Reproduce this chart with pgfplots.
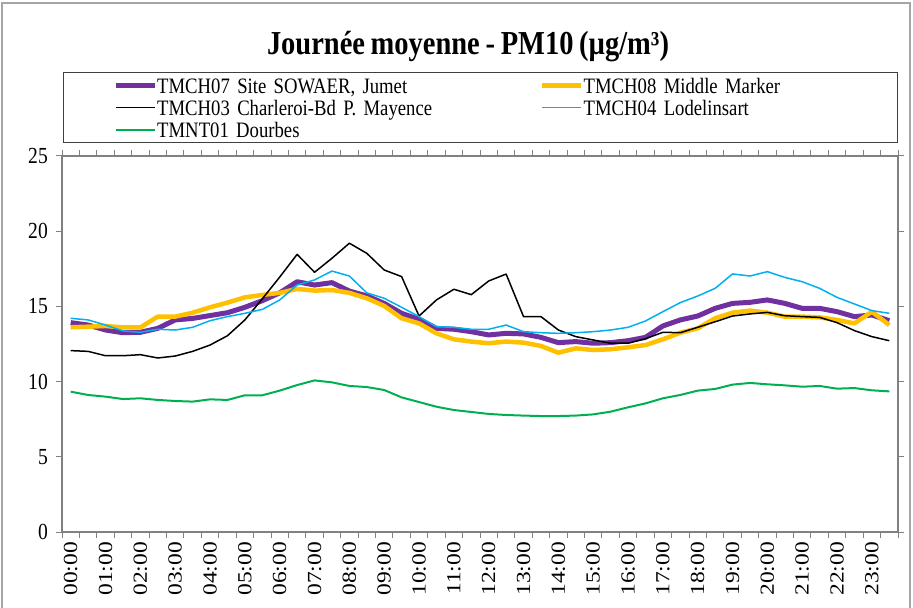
\documentclass[border=0pt]{standalone}
\usepackage{pgfplots}
\usepackage{pgfplotstable}
\pgfplotsset{compat=1.18}
\usepackage{fontspec}
\usepackage{graphicx}
\setmainfont{Liberation Serif}[FakeStretch=0.85, WordSpace=0.8]
\newfontfamily\plainserif{Liberation Serif}
\definecolor{cPurple}{HTML}{7030A0}
\definecolor{cYellow}{HTML}{FFC000}
\definecolor{cCyan}{HTML}{00B0F0}
\definecolor{cGreen}{HTML}{00B050}
\definecolor{cAxis}{HTML}{808080}
\newcommand{\tl}[1]{\scalebox{1}[0.85]{\plainserif\fontsize{23.5bp}{25bp}\selectfont #1}}
\pgfplotstableread{
i a b c d e
0 13.92 13.61 12.06 14.21 9.33
1 13.76 13.65 12.01 14.10 9.11
2 13.43 13.70 11.72 13.76 9.00
3 13.25 13.60 11.72 13.37 8.84
4 13.28 13.60 11.79 13.28 8.89
5 13.54 14.32 11.57 13.48 8.78
6 14.10 14.32 11.70 13.43 8.71
7 14.20 14.58 12.01 13.61 8.67
8 14.39 14.94 12.43 14.05 8.82
9 14.58 15.25 13.05 14.32 8.78
10 14.94 15.60 14.10 14.54 9.09
11 15.38 15.76 15.50 14.80 9.09
12 15.90 15.90 16.95 15.43 9.40
13 16.64 16.16 18.46 16.42 9.77
14 16.42 16.05 17.27 16.76 10.08
15 16.58 16.09 18.20 17.35 9.95
16 16.02 15.90 19.20 17.02 9.71
17 15.70 15.54 18.53 15.90 9.64
18 15.20 15.03 17.42 15.54 9.44
19 14.54 14.21 16.98 14.94 8.95
20 14.14 13.87 14.36 14.32 8.64
21 13.54 13.21 15.43 13.65 8.33
22 13.48 12.81 16.14 13.61 8.11
23 13.32 12.66 15.78 13.48 7.98
24 13.10 12.55 16.69 13.48 7.85
25 13.21 12.66 17.15 13.76 7.78
26 13.17 12.59 14.32 13.32 7.74
27 12.94 12.37 14.32 13.25 7.71
28 12.59 11.92 13.43 13.21 7.71
29 12.66 12.21 12.99 13.25 7.74
30 12.55 12.10 12.77 13.32 7.82
31 12.59 12.15 12.55 13.43 8.00
32 12.72 12.28 12.55 13.61 8.29
33 12.94 12.43 12.85 14.03 8.55
34 13.70 12.81 13.28 14.65 8.89
35 14.10 13.25 13.25 15.25 9.11
36 14.36 13.54 13.61 15.69 9.40
37 14.87 14.21 13.98 16.20 9.51
38 15.20 14.58 14.36 17.16 9.80
39 15.27 14.72 14.50 17.02 9.91
40 15.43 14.58 14.60 17.31 9.82
41 15.20 14.32 14.38 16.93 9.75
42 14.87 14.32 14.32 16.64 9.66
43 14.87 14.27 14.27 16.20 9.71
44 14.65 14.10 13.92 15.60 9.53
45 14.32 13.87 13.39 15.16 9.57
46 14.43 14.65 12.99 14.72 9.42
47 14.05 13.76 12.72 14.54 9.35
}\datatable
\begin{document}
\begin{tikzpicture}
\useasboundingbox (0,0) rectangle (913bp,608bp);
\draw[cAxis!70, line width=1.5bp] (2bp,0bp) -- (2bp,605bp) -- (910bp,605bp) -- (910bp,0bp);
\node[font=\bfseries\fontsize{33.5bp}{36bp}\selectfont] at (468bp,561bp) {Journée moyenne - PM10 (µg/m³)};
\draw[black!75, line width=1bp] (63bp,465bp) rectangle (897bp,535bp);
\begin{axis}[
  at={(62bp,76bp)}, anchor=south west,
  width=836bp, height=376bp, scale only axis,
  xmin=-0.5, xmax=47.5, ymin=0, ymax=25,
  ytick={0,5,...,25},
  xtick={0,2,...,46},
  xticklabels={\tl{00:00},\tl{01:00},\tl{02:00},\tl{03:00},\tl{04:00},\tl{05:00},\tl{06:00},\tl{07:00},\tl{08:00},\tl{09:00},\tl{10:00},\tl{11:00},\tl{12:00},\tl{13:00},\tl{14:00},\tl{15:00},\tl{16:00},\tl{17:00},\tl{18:00},\tl{19:00},\tl{20:00},\tl{21:00},\tl{22:00},\tl{23:00}},
  minor xtick={-0.5,0.5,...,47.5},
  major x tick style={draw=none},
  tick align=outside,
  major tick length=6bp, minor tick length=6bp,
  tick style={cAxis, line width=1bp},
  axis line style={cAxis, line width=1.2bp},
  xticklabel style={yshift=-4bp, rotate=90, anchor=east, inner sep=0pt},
  yticklabel style={anchor=east, inner sep=0pt, xshift=-8bp, font=\fontsize{23bp}{25bp}\selectfont},
  /pgf/number format/assume math mode=true,
  legend columns=2,
  legend cell align=left,
  legend style={draw=none, fill=none, at={(0.061,1.2074)}, anchor=north west,
    font=\fontsize{22bp}{24bp}\selectfont,
    inner sep=0pt, row sep=0pt, column sep=0pt,
    nodes={inner sep=0pt, text height=15bp, text depth=7bp, text width=383bp, align=left}},
  legend image code/.code={\draw[#1] (0bp,3.5bp) -- (39bp,3.5bp);},
  every axis plot/.append style={line join=round},
]
\addplot[cPurple, line width=5bp] table[x=i, y=a] {\datatable};
\addlegendentry{TMCH07 Site SOWAER, Jumet}
\addplot[cYellow, line width=4.5bp] table[x=i, y=b] {\datatable};
\addlegendentry{TMCH08 Middle Marker}
\addplot[black, line width=1.5bp] table[x=i, y=c] {\datatable};
\addlegendentry{TMCH03 Charleroi-Bd P. Mayence}
\addplot[cCyan, line width=1.5bp] table[x=i, y=d] {\datatable};
\addlegendentry{TMCH04 Lodelinsart}
\addplot[cGreen, line width=2bp] table[x=i, y=e] {\datatable};
\addlegendentry{TMNT01 Dourbes}
\end{axis}
\end{tikzpicture}
\end{document}
